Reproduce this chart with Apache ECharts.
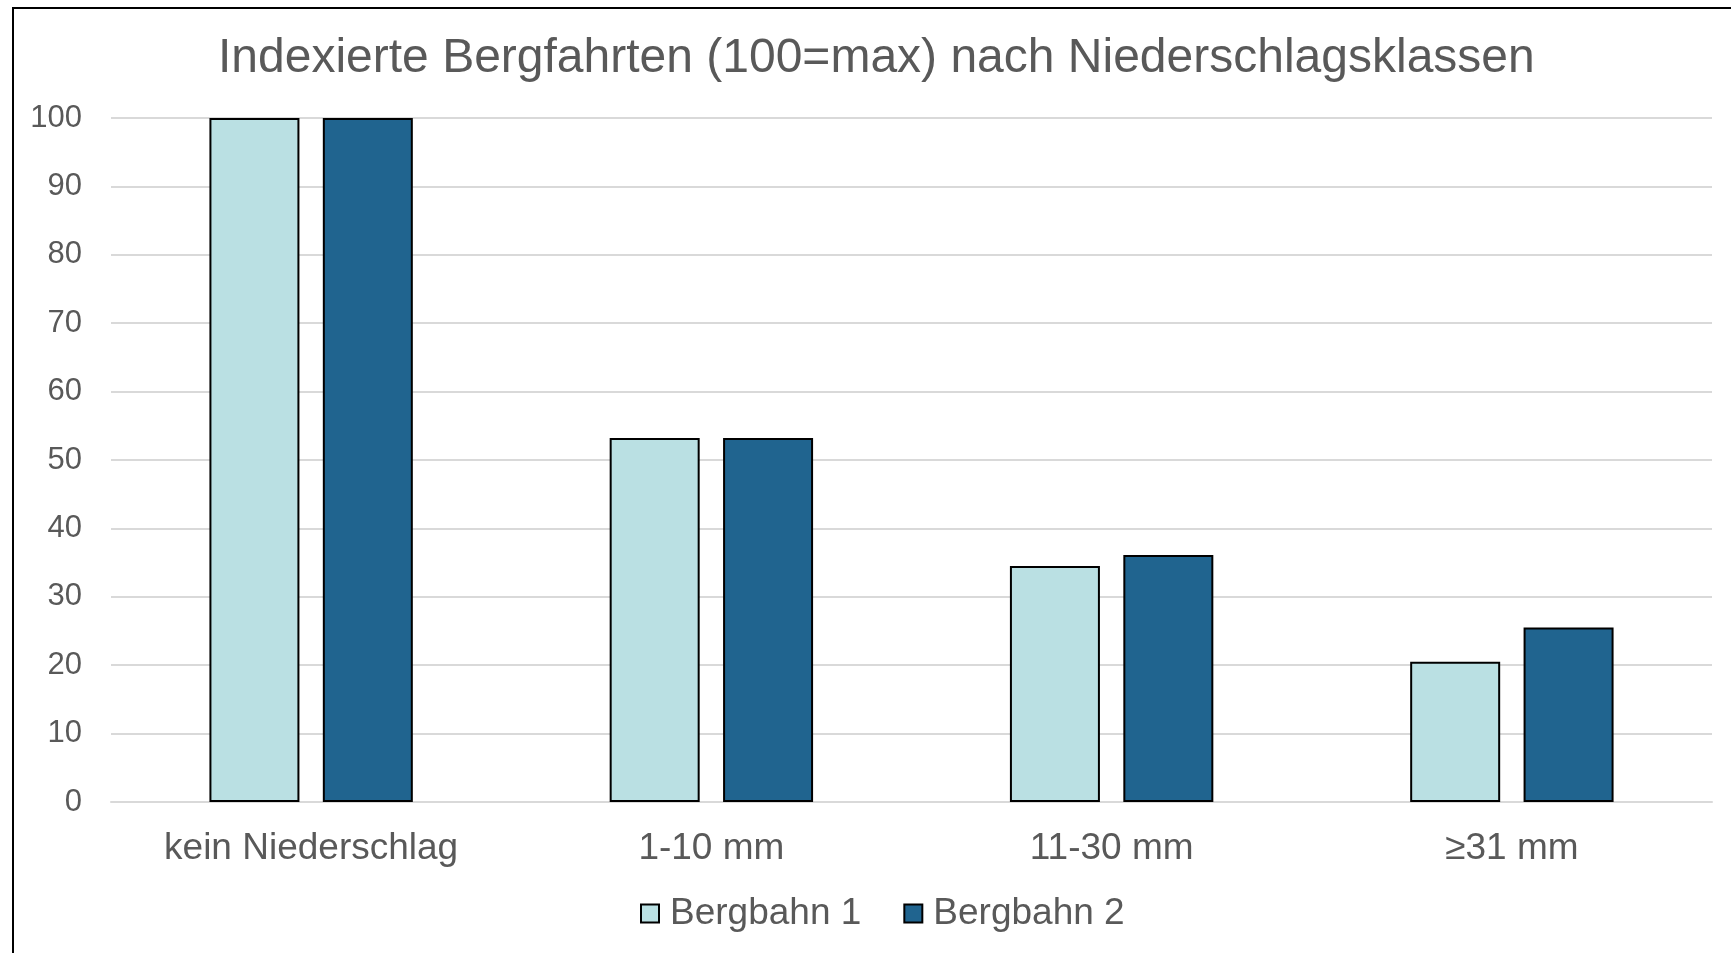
<!DOCTYPE html>
<html>
<head>
<meta charset="utf-8">
<script src="https://cdn.jsdelivr.net/npm/echarts@6/dist/echarts.min.js"></script>
<style>
  html, body { margin: 0; padding: 0; background: #fff; }
  #chart { width: 1731px; height: 953px; }
</style>
</head>
<body>
<div id="chart"></div>
<script>
  // Niederschlagsklassen
  var categories = ['kein Niederschlag', '1-10 mm', '11-30 mm', '≥31 mm']
  var bahn1 = [100, 53.2, 34.5, 20.5]
  var bahn2 = [100, 53.2, 36.1, 25.5]
  var yTicks = {min: 0, max: 100, interval: 10}

  var font = '"Liberation Sans", Arial, sans-serif'
  var textColor = '#595959'

  var chart = echarts.init(document.getElementById('chart'), null, {renderer: 'canvas'})
  chart.setOption({
    animation: false,
    backgroundColor: '#fff',
    textStyle: {fontFamily: font},
    title: {
      text: 'Indexierte Bergfahrten (100=max) nach Niederschlagsklassen',
      left: 213,
      top: 30,
      textStyle: {
        color: textColor,
        fontFamily: font,
        fontSize: 48,
        fontWeight: 'normal'
      }
    },
    legend: {
      bottom: 16,
      left: 635,
      itemWidth: 18,
      itemHeight: 18,
      itemGap: 42,
      icon: 'rect',
      textStyle: {color: textColor, fontSize: 37, fontFamily: font, padding: [0, 0, 0, 6]},
      data: ['Bergbahn 1', 'Bergbahn 2']
    },
    grid: {
      left: 111,
      right: 19,
      top: 118,
      bottom: 151
    },
    xAxis: {
      type: 'category',
      data: categories,
      axisLine: {lineStyle: {color: '#d9d9d9', width: 2}},
      axisTick: {show: false},
      axisLabel: {
        color: textColor,
        fontSize: 37,
        fontFamily: font,
        margin: 28
      }
    },
    yAxis: {
      type: 'value',
      min: yTicks.min,
      max: yTicks.max,
      interval: yTicks.interval,
      axisLine: {show: false},
      axisTick: {show: false},
      splitLine: {lineStyle: {color: '#d9d9d9', width: 2}},
      axisLabel: {
        color: textColor,
        fontSize: 31,
        fontFamily: font,
        margin: 29
      }
    },
    series: [
      {
        name: 'Bergbahn 1',
        type: 'bar',
        data: bahn1,
        barWidth: 90,
        barGap: '26%',
        itemStyle: {color: '#bae0e3', borderColor: '#000', borderWidth: 2}
      },
      {
        name: 'Bergbahn 2',
        type: 'bar',
        data: bahn2,
        barWidth: 90,
        itemStyle: {color: '#20648f', borderColor: '#000', borderWidth: 2}
      }
    ],
    graphic: [
      {
        type: 'rect',
        silent: true,
        shape: {x: 13, y: 8, width: 1800, height: 1000},
        style: {fill: 'none', stroke: '#000', lineWidth: 2}
      }
    ]
  })
</script>
</body>
</html>
